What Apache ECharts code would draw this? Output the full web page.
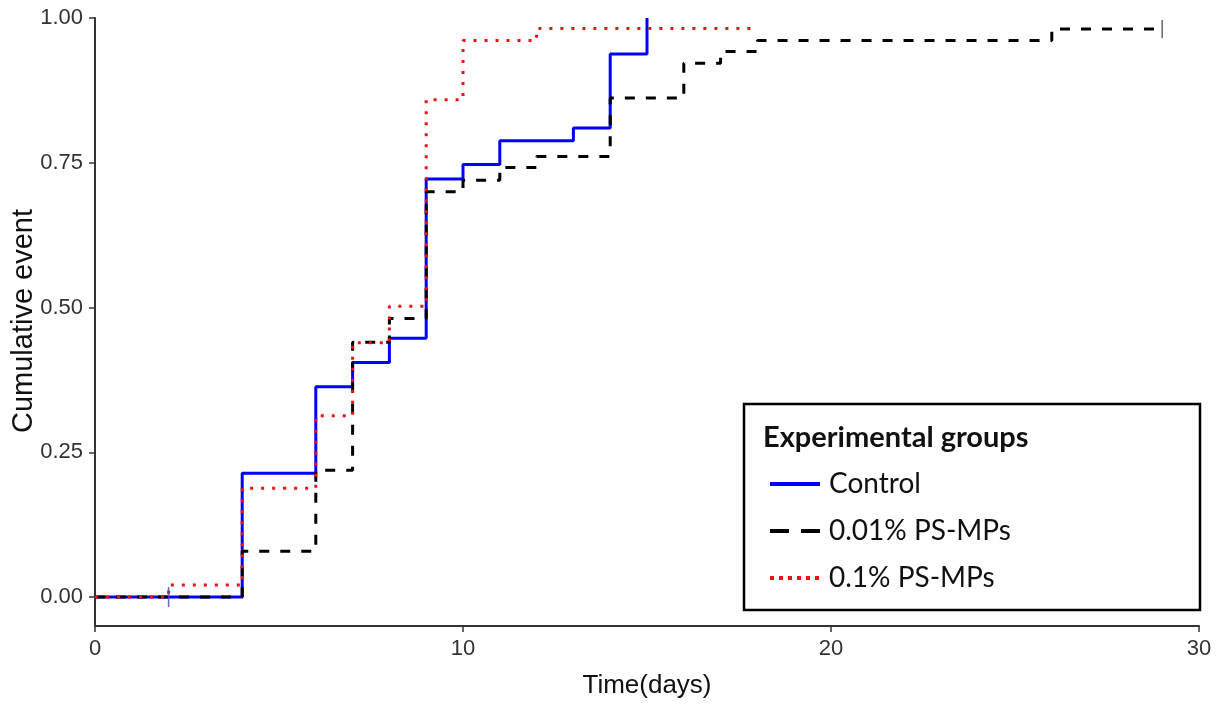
<!DOCTYPE html>
<html>
<head>
<meta charset="utf-8">
<script src="https://cdn.jsdelivr.net/npm/echarts@6/dist/echarts.min.js"></script>
<style>
html,body{margin:0;padding:0;background:#fff;}
#c{width:1219px;height:704px;}
</style>
</head>
<body>
<div id="c"></div>
<script>
// ---- data ----
var seriesNames = ['Control', '0.01% PS-MPs', '0.1% PS-MPs'];
var controlTimes  = [0, 4, 6, 7, 8, 9, 10, 11, 13, 14, 15];
var controlValues = [0, 0.214, 0.363, 0.405, 0.447, 0.722, 0.747, 0.788, 0.810, 0.938, 1.0];
var lowTimes  = [0, 4, 6, 7, 8, 9, 10, 11, 12, 14, 16, 17, 18, 26, 29];
var lowValues = [0, 0.079, 0.219, 0.440, 0.481, 0.700, 0.720, 0.742, 0.761, 0.862, 0.922, 0.942, 0.961, 0.981, 0.981];
var highTimes  = [0, 2, 4, 6, 7, 8, 9, 10, 12, 18];
var highValues = [0, 0.021, 0.188, 0.313, 0.439, 0.502, 0.859, 0.961, 0.982, 0.982];
var controlCensorTimes = [2];
var controlCensorValues = [0];
var lowCensorTimes = [29];
var lowCensorValues = [0.981];
var xTicks = [0, 10, 20, 30];
var yTicks = [0, 0.25, 0.5, 0.75, 1.0];

function pairs(t, v) { return t.map(function (x, i) { return [x, v[i]]; }); }

var chart = echarts.init(document.getElementById('c'), null, {renderer: 'canvas'});
var axisFont = '"Liberation Sans", Arial, sans-serif';
var legendFont = 'Lato, "Open Sans", sans-serif';

chart.setOption({
  animation: false,
  backgroundColor: '#fff',
  grid: {left: 95, right: 20, top: 18, bottom: 77, containLabel: false},
  xAxis: {
    type: 'value', min: 0, max: 30, interval: 10,
    splitLine: {show: false},
    axisLine: {show: true, onZero: false, lineStyle: {color: '#333', width: 2}},
    axisTick: {show: true, length: 6, lineStyle: {color: '#333', width: 1.5}},
    axisLabel: {color: '#333', fontSize: 22, fontFamily: axisFont, margin: 12},
    name: 'Time(days)', nameLocation: 'middle', nameGap: 47,
    nameTextStyle: {color: '#111', fontSize: 26, fontFamily: axisFont}
  },
  yAxis: {
    type: 'value', min: -0.05, max: 1.0,
    splitLine: {show: false},
    axisLine: {show: true, onZero: false, lineStyle: {color: '#333', width: 2}},
    axisTick: {show: true, length: 6, customValues: yTicks, lineStyle: {color: '#333', width: 1.5}},
    axisLabel: {color: '#333', fontSize: 22, fontFamily: axisFont, margin: 12, customValues: yTicks,
      formatter: function (v) { return v.toFixed(2); }}
  },
  legend: {
    data: [
      {name: seriesNames[0], lineStyle: {width: 4}},
      {name: seriesNames[1], lineStyle: {width: 4, type: [19, 12]}},
      {name: seriesNames[2], lineStyle: {width: 4, type: [4, 5]}}
    ],
    orient: 'vertical', left: 768, top: 470, z: 10, padding: 0,
    itemWidth: 50, itemHeight: 14, itemGap: 19,
    itemStyle: {opacity: 0},
    textStyle: {fontSize: 28, fontFamily: legendFont, color: '#111', lineHeight: 28, padding: [0, 0, 0, 4]},
    selectedMode: false
  },
  graphic: [
    {type: 'rect', z: 3, shape: {x: 744, y: 404, width: 456, height: 206},
     style: {fill: '#fff', stroke: '#000', lineWidth: 2.5}},
    {type: 'text', z: 11, x: 763, y: 438,
     style: {text: 'Experimental groups', font: 'bold 29px ' + legendFont, fill: '#111',
       textAlign: 'left', textVerticalAlign: 'middle'}},
    {type: 'text', z: 11, x: 24, y: 321, rotation: Math.PI / 2,
     style: {text: 'Cumulative event', font: '29px ' + axisFont, fill: '#111',
       textAlign: 'center', textVerticalAlign: 'middle'}}
  ],
  series: [
    {name: seriesNames[0], type: 'line', step: 'end', symbol: 'none', clip: false, z: 2,
     data: pairs(controlTimes, controlValues),
     itemStyle: {color: '#0000ff'},
     lineStyle: {color: '#0000ff', width: 3}},
    {name: seriesNames[1], type: 'line', step: 'end', symbol: 'none', clip: false, z: 2,
     data: pairs(lowTimes, lowValues),
     itemStyle: {color: '#000'},
     lineStyle: {color: '#000', width: 3, type: [10, 11], cap: 'butt'}},
    {name: seriesNames[2], type: 'line', step: 'end', symbol: 'none', clip: false, z: 2,
     data: pairs(highTimes, highValues),
     itemStyle: {color: '#ee1111'},
     lineStyle: {color: '#ee1111', width: 3, type: [3, 8], cap: 'butt'}},
    {name: 'censorControl', type: 'scatter', symbol: 'rect', symbolSize: [1.6, 20], z: 3,
     data: pairs(controlCensorTimes, controlCensorValues), itemStyle: {color: '#5a3fb5'}},
    {name: 'censorLow', type: 'scatter', symbol: 'rect', symbolSize: [1.6, 18], z: 3,
     data: pairs(lowCensorTimes, lowCensorValues), itemStyle: {color: '#4b4b66'}}
  ]
});
</script>
</body>
</html>
